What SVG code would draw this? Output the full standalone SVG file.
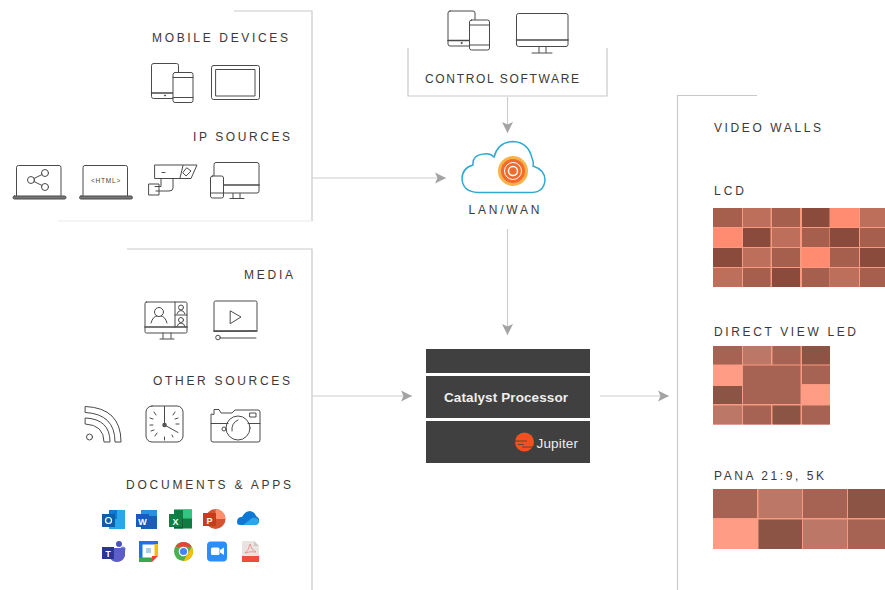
<svg xmlns="http://www.w3.org/2000/svg" width="885" height="590" viewBox="0 0 885 590">
<style>
text{font-family:"Liberation Sans",Arial,sans-serif}
.lab{font-size:12px;fill:#3a3a3a}
.pan{fill:none;stroke:#c9c9c9;stroke-width:1.2}
.fnt{fill:none;stroke:#e9e9e9;stroke-width:1.2}
.con{fill:none;stroke:#cbcbcb;stroke-width:1.1;marker-end:url(#ah)}
.ic{fill:none;stroke:#4a4a4a;stroke-width:1;stroke-linejoin:round;stroke-linecap:round}
.th{stroke-width:1.6}
.w{fill:#fff}
.a{fill:#f79a80}
.d{fill:#8a4b3c}.m{fill:#a65e4d}.l{fill:#be6f5c}.b{fill:#ff8b70}
.d2{fill:#8b5445}.m2{fill:#a66353}.l2{fill:#bd7766}.b2{fill:#ff9c85}
</style>
<defs>
<marker id="ah" markerUnits="userSpaceOnUse" markerWidth="12" markerHeight="12" refX="11" refY="6" orient="auto">
<path d="M0 .5L11 6L0 11.5L2.500 6Z" fill="#a3a3a3"/>
</marker>
<g id="tabphone" class="ic">
<rect x=".5" y=".5" width="27" height="35" rx="2"/>
<path d="M.5 30H22" class="th"/>
<rect class="w" x="22" y="9.500" width="20" height="30" rx="2"/>
<path d="M22 14.500H42M22 34.500H42"/>
<circle cx="14" cy="32.500" r=".6"/>
</g>
<g id="laptop" class="ic">
<path d="M3.500 31V2.500Q3.500 .5 5.500 .5H46Q48 .5 48 2.500V31"/>
<rect x="0" y="31" width="53" height="3" rx="1.500" fill="#777"/>
</g>
</defs>

<g id="connectors">
<path class="pan" d="M234 11H312V221"/>
<path class="fnt" d="M312 221H58"/>
<path class="pan" d="M127 249H312V590"/>
<path class="pan" d="M408 48V96H607V48"/>
<path class="pan" d="M757 95.500H677.500V590"/>
<path class="con" d="M507.500 97V133"/>
<path class="con" d="M312 178H446"/>
<path class="con" d="M507.500 229V335"/>
<path class="con" d="M312 396H412"/>
<path class="con" d="M600 396H669"/>
</g>

<g id="mobile-devices">
<text class="lab" x="152" y="42" textLength="136">MOBILE DEVICES</text>
<use href="#tabphone" x="151" y="63"/>
<g class="ic"><rect x="211.500" y="65.500" width="48" height="34" rx="2"/><rect x="216" y="69.500" width="39" height="26.500"/></g>
</g>

<g id="ip-sources">
<text class="lab" x="193" y="141" textLength="97">IP SOURCES</text>
<use href="#laptop" x="13" y="165"/>
<g class="ic"><circle cx="31" cy="180" r="3.500"/><circle cx="45" cy="173" r="3.500"/><circle cx="45" cy="187" r="3.500"/><path d="M34 178.500L42 174.500M34 181.500L42 185.500"/></g>
<use href="#laptop" x="79.500" y="165"/>
<text x="106" y="183" text-anchor="middle" font-size="6.500" letter-spacing=".8" fill="#444">&lt;HTML&gt;</text>
<g class="ic">
<path d="M155 165H197L191 178.500H155Z"/><path d="M183 165.500L180 178M162 172.500H165"/>
<path d="M187 168L191 171L186 176L183 173Z"/>
<path d="M161 179V186.500H155M173 179V188Q173 191 169 191H156"/><rect x="149" y="184" width="10" height="11"/>
</g>
<g class="ic">
<path d="M214 176V164.500Q214 162.500 216 162.500H257Q259 162.500 259 164.500V191Q259 193 257 193H223"/>
<path d="M223 185H259" class="th"/>
<path d="M233 193.500V198M240 193.500V198M230 198.500H244"/>
<rect class="w" x="210.500" y="176" width="13" height="22" rx="2"/><path d="M210.500 193H223.500"/>
</g>
</g>

<g id="media">
<text class="lab" x="244" y="279" textLength="49">MEDIA</text>
<g class="ic">
<rect x="145" y="302" width="42" height="31" rx="1.500"/>
<path d="M145 327H187" class="th"/><path d="M175 302V327M175 315H187M163 333V338.500M171 333V338.500M160 339H174"/>
<circle cx="159" cy="312" r="4.500"/><path d="M151 323Q153 316 157 316M167 323Q165 316 161 316"/>
<circle cx="181" cy="307.500" r="2.500"/><path d="M177 314Q178 310.500 181 310.500Q184 310.500 185 314"/>
<circle cx="181" cy="320" r="2.500"/><path d="M177 326.500Q178 323 181 323Q184 323 185 326.500"/>
<path d="M214 331V302.500Q214 301 215.500 301H255.500Q257 301 257 302.500V329.500Q257 331 255.500 331Z"/>
<path d="M214 331H257" class="th"/><path d="M230.500 311L241 317L230.500 323.500Z"/>
<circle cx="218" cy="337.500" r="2.300"/><path d="M220.500 338H256"/>
</g>
</g>

<g id="other-sources">
<text class="lab" x="153" y="385" textLength="137">OTHER SOURCES</text>
<g class="ic">
<path d="M85.500 406.500Q121 408 121 442H115Q115 414 85.500 412.500Z"/>
<path d="M85.500 418Q110 419 110 442H104Q104 425 85.500 424Z"/>
<circle cx="89.500" cy="437" r="3"/>
<rect x="146" y="406" width="37" height="36" rx="6"/>
<path d="M164.500 406.500V425M164.500 425L178 432.500"/>
<circle cx="164.500" cy="425" r="1.500" stroke-width="1.500"/>
<path d="M154 412L156 415M175 412L173 415M150 425H153M176 424H179M155 436L157 433M164.500 437V440M173 437L172 435M150 418L153 419M178 418L175 419M151 431L154 430"/>
<path d="M211 414.500V440Q211 442 213 442H258Q260 442 260 440V412Q260 410 258 410H235L232 413H221L219 409.500H214V414Z"/>
<path d="M211 423.500H228M248 423.500H260"/>
<rect x="250" y="413" width="6" height="4"/>
<circle cx="238" cy="428" r="12"/><path d="M232 431Q231 423 238 420"/>
<circle cx="224" cy="429" r="2"/>
</g>
</g>

<g id="documents-apps">
<text class="lab" x="126" y="489" textLength="165">DOCUMENTS &amp; APPS</text>
<g id="outlook"><rect x="109" y="510" width="16" height="19" fill="#28a8ea"/><rect x="109" y="510" width="8" height="9" fill="#0f78d4"/><rect x="102" y="514" width="13" height="13" fill="#0f5fa8"/><circle cx="108.500" cy="520.500" r="3" fill="none" stroke="#fff" stroke-width="1.200"/></g>
<g id="word"><rect x="141" y="510" width="16" height="19" fill="#1a5fb4"/><rect x="141" y="510" width="16" height="6" fill="#2b8fe0"/><rect x="136" y="514" width="13" height="13" fill="#185abd"/><text x="142.500" y="524.500" text-anchor="middle" font-size="9" font-weight="bold" fill="#fff">W</text></g>
<g id="excel"><rect x="174" y="509.500" width="18" height="19" fill="#107c41"/><rect x="183" y="509.500" width="9" height="9" fill="#33c481"/><rect x="174" y="519" width="9" height="9.500" fill="#185c37"/><rect x="169" y="514" width="13" height="13" fill="#117e43"/><text x="175.500" y="524.500" text-anchor="middle" font-size="9" font-weight="bold" fill="#fff">X</text></g>
<g id="powerpoint"><circle cx="215.500" cy="519" r="10" fill="#d35230"/><path d="M215.500 509A10 10 0 0 1 225.500 519H215.500Z" fill="#ff8f6b"/><rect x="203" y="513" width="13" height="13" fill="#c43e1c"/><text x="209.500" y="523.500" text-anchor="middle" font-size="9" font-weight="bold" fill="#fff">P</text></g>
<g id="onedrive"><path d="M237 522Q237 517 242 517Q245 511 250 511Q255 512 256 516Q260 518 259 522Q258 525 255 525H240Q237 525 237 522Z" fill="#0f78d4"/><path d="M243 525L252 518Q258 517 259 522Q258 525 255 525Z" fill="#28a8ea"/></g>
<g id="teams"><circle cx="119" cy="544" r="3" fill="#4b53bc"/><circle cx="123" cy="549" r="2.500" fill="#7b83eb"/><path d="M109 548H125V556Q123 562 116 562Q110 561 109 555Z" fill="#5b5fc7"/><rect x="102" y="547" width="12" height="12" fill="#2b3595"/><text x="108" y="556.500" text-anchor="middle" font-size="8.500" font-weight="bold" fill="#fff">T</text></g>
<g id="calendar"><path d="M139 541H158V556L152 562H139Z" fill="#fff"/><rect x="139" y="541" width="19" height="3.500" fill="#1a73e8"/><rect x="139" y="541" width="3.500" height="17" fill="#1a73e8"/><rect x="154.500" y="544" width="3.500" height="12" fill="#fbbc04"/><rect x="139" y="557.500" width="13" height="4.500" fill="#34a853"/><path d="M152 562V556H158Z" fill="#ea4335"/><rect x="146" y="548" width="5" height="5" fill="#a9d0ea"/></g>
<g id="chrome"><circle cx="183.500" cy="551.500" r="9.500" fill="#4caf50"/><path d="M175.300 546.700A9.500 9.500 0 0 1 191.700 546.700L183.500 546.700Z" fill="#ea4335"/><path d="M191.700 546.700A9.500 9.500 0 0 1 183.500 561L187.500 554Z" fill="#fbbc04"/><circle cx="183.500" cy="551.500" r="4.800" fill="#fff"/><circle cx="183.500" cy="551.500" r="3.600" fill="#4285f4"/></g>
<g id="zoom"><rect x="207" y="541.500" width="20" height="20" rx="4" fill="#2d8cff"/><rect x="211" y="547.500" width="8.500" height="7.500" rx="1.500" fill="#fff"/><path d="M220 550L224 547.500V555L220 552.500Z" fill="#fff"/></g>
<g id="pdf"><path d="M242 541H254L259 546V562H242Z" fill="#e9e4e2"/><path d="M254 541L259 546H254Z" fill="#cfc8c6"/><path d="M245 553Q249 550 250 544Q251 550 256 552Q250 551 245 553Z" fill="none" stroke="#e78f88" stroke-width=".9"/><rect x="242" y="556" width="17" height="6" fill="#ee4c3f"/></g>
</g>

<g id="control-software">
<use href="#tabphone" x="447.500" y="10.500"/>
<g class="ic">
<path d="M516.500 44.500V15.500Q516.500 13.500 518.500 13.500H566Q568 13.500 568 15.500V44.500Q568 46.500 566 46.500H518.500Q516.500 46.500 516.500 44.500Z"/>
<path d="M516.500 40H568" class="th"/><path d="M539 46.500V52.500M546 46.500V52.500M532 53H552"/>
</g>
<text class="lab" x="425" y="83" textLength="154">CONTROL SOFTWARE</text>
</g>

<g id="lan-wan">
<path d="M478 192.500Q463 192 462 179Q462 168 473 165Q472 155 484 154Q490 153 494 157Q498 142 513 141.500Q528 142 532 158Q534 163 533 166Q545 170 545 180Q544 192 532 192.500Z" fill="#fff" stroke="#2fa9cf" stroke-width="1.500"/>
<circle cx="513" cy="171" r="15" fill="#f7b24a"/>
<circle cx="513" cy="171" r="12" fill="#f26b2c"/>
<circle cx="513" cy="171" r="8.500" fill="none" stroke="#fff" stroke-width="1"/>
<circle cx="513" cy="171" r="4.500" fill="none" stroke="#fff" stroke-width="1.500"/>
<text class="lab" x="468.500" y="214" textLength="71">LAN/WAN</text>
</g>

<g id="catalyst-processor">
<rect x="426" y="349" width="164" height="24" fill="#404040"/>
<rect x="426" y="376" width="164" height="42" fill="#404040"/>
<rect x="426" y="421" width="164" height="42" fill="#404040"/>
<text x="444" y="401.500" font-size="13.500" font-weight="bold" fill="#eee" textLength="124">Catalyst Processor</text>
<circle cx="524.500" cy="442" r="9.500" fill="#f0511f"/>
<path d="M515 441H527M522 447H534M518 444.500H524" stroke="#404040" stroke-width=".8"/>
<text x="536.500" y="448" font-size="13.500" fill="#eee" textLength="41.500">Jupiter</text>
</g>

<g id="video-walls">
<text class="lab" x="714" y="132" textLength="107">VIDEO WALLS</text>
</g>

<g id="lcd">
<text class="lab" x="714" y="195" textLength="30">LCD</text>
<rect class="a" x="713" y="208" width="172" height="79"/>
<rect class="m" x="713" y="208" width="29" height="19"/><rect class="l" x="743" y="208" width="27.500" height="19"/><rect class="m" x="772" y="208" width="28" height="19"/><rect class="d" x="802" y="208" width="27.500" height="19"/><rect class="b" x="830" y="208" width="29" height="19"/><rect class="l" x="860" y="208" width="25" height="19"/>
<rect class="b" x="713" y="228" width="29" height="19"/><rect class="d" x="743" y="228" width="27.500" height="19"/><rect class="l" x="772" y="228" width="28" height="19"/><rect class="m" x="802" y="228" width="27.500" height="19"/><rect class="d" x="830" y="228" width="29" height="19"/><rect class="m" x="860" y="228" width="25" height="19"/>
<rect class="d" x="713" y="248" width="29" height="19"/><rect class="l" x="743" y="248" width="27.500" height="19"/><rect class="m" x="772" y="248" width="28" height="19"/><rect class="b" x="802" y="248" width="27.500" height="19"/><rect class="m" x="830" y="248" width="29" height="19"/><rect class="d" x="860" y="248" width="25" height="19"/>
<rect class="l" x="713" y="268" width="29" height="19"/><rect class="m" x="743" y="268" width="27.500" height="19"/><rect class="d" x="772" y="268" width="28" height="19"/><rect class="m" x="802" y="268" width="27.500" height="19"/><rect class="l" x="830" y="268" width="29" height="19"/><rect class="m" x="860" y="268" width="25" height="19"/>
</g>

<g id="direct-view-led">
<text class="lab" x="714" y="336" textLength="142">DIRECT VIEW LED</text>
<rect class="a" x="713" y="346" width="117" height="78.500"/>
<rect class="m2" x="713" y="346" width="29" height="18.500"/><rect class="l2" x="743" y="346" width="28" height="18.500"/><rect class="m2" x="772.500" y="346" width="28" height="18.500"/><rect class="d2" x="802" y="346" width="28" height="18.500"/>
<rect class="b2" x="713" y="365" width="29" height="20.500"/><rect class="m2" x="743" y="365.500" width="57.500" height="38.500"/><rect class="m2" x="802" y="365.500" width="28" height="18.500"/>
<rect class="d2" x="713" y="386" width="29" height="18"/><rect class="b2" x="801" y="385" width="29" height="19.500"/>
<rect class="l2" x="713" y="405.500" width="29" height="19"/><rect class="m2" x="743" y="405.500" width="28" height="19"/><rect class="d2" x="772.500" y="405.500" width="28" height="19"/><rect class="m2" x="802" y="405.500" width="28" height="19"/>
</g>

<g id="pana">
<text class="lab" x="714" y="480" textLength="110">PANA 21:9, 5K</text>
<rect class="a" x="713" y="489" width="172" height="60"/>
<rect class="m2" x="713" y="489" width="44" height="29"/><rect class="l2" x="758.500" y="489" width="43.500" height="29"/><rect class="m2" x="803" y="489" width="44" height="29"/><rect class="d2" x="848" y="489" width="37" height="29"/>
<rect class="b2" x="713" y="519.500" width="45" height="29.500"/><rect class="d2" x="758.500" y="519.500" width="43.500" height="29.500"/><rect class="l2" x="803" y="519.500" width="44" height="29.500"/><rect class="m2" x="848" y="519.500" width="37" height="29.500"/>
</g>
</svg>
